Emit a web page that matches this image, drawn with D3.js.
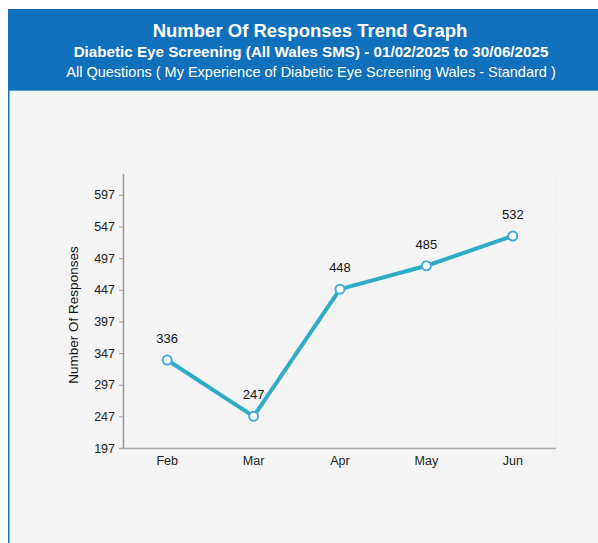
<!DOCTYPE html>
<html><head><meta charset="utf-8">
<script src="https://cdn.jsdelivr.net/npm/d3@7/dist/d3.min.js"></script>
<style>
body{margin:0;background:#fff;font-family:Arial,"Liberation Sans",sans-serif;}
</style></head><body>
<svg id="c" width="598" height="543"></svg>
<script>
const categories = ["Feb","Mar","Apr","May","Jun"];
const values = [336,247,448,485,532];
const yTicks = [197,247,297,347,397,447,497,547,597];
const titleText = "Number Of Responses Trend Graph";
const subtitleText = "Diabetic Eye Screening (All Wales SMS) - 01/02/2025 to 30/06/2025";
const subtitle2Text = "All Questions ( My Experience of Diabetic Eye Screening Wales - Standard )";
const yLabel = "Number Of Responses";

(function(){
const svg = d3.select("#c");
// panel
svg.append("rect").attr("x",9).attr("y",9).attr("width",589).attr("height",534).attr("fill","#f5f5f5");
svg.append("rect").attr("x",8).attr("y",9).attr("width",1.5).attr("height",534).attr("fill","#1a72bd");
svg.append("rect").attr("x",8).attr("y",9).attr("width",590).attr("height",82).attr("fill","#1170bb");
svg.append("rect").attr("x",9).attr("y",90).attr("width",589).attr("height",1).attr("fill","#5c9fd6");

svg.append("text").attr("x",310).attr("y",37).attr("text-anchor","middle").attr("fill","#fff")
  .attr("font-size",18.5).attr("font-weight","bold").text(titleText);
svg.append("text").attr("x",311).attr("y",57).attr("text-anchor","middle").attr("fill","#fff")
  .attr("font-size",15.2).attr("font-weight","bold").text(subtitleText);
svg.append("text").attr("x",311).attr("y",77).attr("text-anchor","middle").attr("fill","#fff")
  .attr("font-size",14.5).text(subtitle2Text);

const pl=124, pr=556, pt=174, pb=448;
const x = d3.scaleBand().domain(categories).range([pl,pr]);
const y = d3.scaleLinear().domain([197,630]).range([pb,pt]);

const g = svg.append("g");
// faint grid
g.selectAll(".hg").data(yTicks).enter().append("line")
  .attr("x1",pl).attr("x2",pr).attr("y1",d=>y(d)).attr("y2",d=>y(d))
  .attr("stroke","#f1f1f1").attr("stroke-width",1);
g.selectAll(".vg").data(categories).enter().append("line")
  .attr("x1",d=>x(d)+x.bandwidth()).attr("x2",d=>x(d)+x.bandwidth()).attr("y1",pt).attr("y2",pb)
  .attr("stroke","#f1f1f1").attr("stroke-width",1);

// y axis
const ya = g.append("g").attr("transform",`translate(${pl},0)`)
  .call(d3.axisLeft(y).tickValues(yTicks).tickSize(5).tickPadding(4));
ya.select(".domain").attr("d",`M-0.5,${pt}V${pb}`).attr("stroke","#999").attr("stroke-width",1.5);
ya.selectAll(".tick line").attr("stroke","#999");
ya.selectAll("text").attr("font-size",12.5).attr("fill","#222").attr("font-family","Arial,'Liberation Sans',sans-serif");

// x axis
const xa = g.append("g").attr("transform",`translate(0,${pb})`)
  .call(d3.axisBottom(x).tickSize(0).tickPadding(8));
xa.select(".domain").attr("d",`M${pl-5},0.5H${pr}`).attr("stroke","#aaa").attr("stroke-width",1.5);
xa.selectAll("text").attr("font-size",12.5).attr("fill","#222").attr("font-family","Arial,'Liberation Sans',sans-serif");

svg.append("text").attr("transform",`translate(78,${(pt+pb)/2+4}) rotate(-90)`)
  .attr("text-anchor","middle").attr("font-size",13.5).attr("fill","#111").text(yLabel);

const cx = d=>x(d)+x.bandwidth()/2;
const line = d3.line().x((d,i)=>cx(categories[i])).y(d=>y(d));
g.append("path").datum(values).attr("d",line).attr("fill","none")
  .attr("stroke","#2fadc6").attr("stroke-width",4).attr("stroke-linejoin","round");
g.selectAll(".pt").data(values).enter().append("circle")
  .attr("cx",(d,i)=>cx(categories[i])).attr("cy",d=>y(d)).attr("r",4.5)
  .attr("fill","#fff").attr("stroke","#45a9dc").attr("stroke-width",2);
g.selectAll(".lbl").data(values).enter().append("text")
  .attr("x",(d,i)=>cx(categories[i])).attr("y",d=>y(d)-17).attr("text-anchor","middle")
  .attr("font-size",13).attr("fill","#111").text(d=>d);
})();
</script></body></html>
